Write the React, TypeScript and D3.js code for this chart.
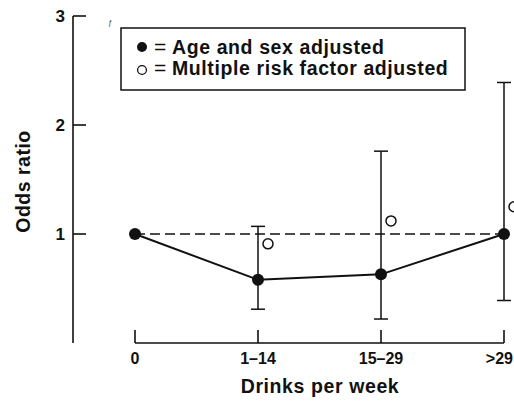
import React from "react";
import * as d3 from "d3";

const categories = ["0", "1–14", "15–29", ">29"];
const ageSexOR = [1.0, 0.58, 0.63, 1.0];
const ciLower = [null, 0.31, 0.22, 0.39];
const ciUpper = [null, 1.07, 1.76, 2.39];
const multiRiskOR = [null, 0.91, 1.12, 1.25];
const yTicks = [1, 2, 3];
const legendLabels = ["Age and sex adjusted", "Multiple risk factor adjusted"];

const W = 514;
const H = 403;
const FONT = "'Liberation Sans', Arial, sans-serif";
const INK = "#111";

export default function App() {
  const x = d3.scalePoint<string>().domain(categories).range([135, 504]);
  const y = d3.scaleLinear().domain([0, 3]).range([343, 16]);
  const line = d3
    .line<number>()
    .x((_, i) => x(categories[i]) as number)
    .y((d) => y(d));
  const x0 = 73;
  const yBase = y(0);
  return (
    <svg
      width={W}
      height={H}
      style={{ position: "absolute", left: 0, top: 0, background: "#fff" }}
      fontFamily={FONT}
      fontWeight="bold"
    >
      <rect width={W} height={H} fill="#fff" />
      {/* y axis */}
      <line x1={x0} x2={x0} y1={y(3)} y2={yBase} stroke={INK} strokeWidth={1.6} />
      {yTicks.map((t) => (
        <g key={t}>
          <line x1={x0} x2={x0 + 13} y1={y(t)} y2={y(t)} stroke={INK} strokeWidth={1.6} />
          <text x={65} y={y(t) + 6} textAnchor="end" fontSize={17} fill={INK}>
            {t}
          </text>
        </g>
      ))}
      <text
        transform={`translate(30,181.5) rotate(-90)`}
        textAnchor="middle"
        fontSize={19.5}
        letterSpacing={0.5}
        fill={INK}
      >
        Odds ratio
      </text>
      {/* x axis */}
      <line x1={x(categories[0])} x2={x(categories[3])} y1={yBase} y2={yBase} stroke={INK} strokeWidth={1.6} />
      {categories.map((c, i) => (
        <g key={c}>
          <line x1={x(c)} x2={x(c)} y1={yBase} y2={yBase - 13} stroke={INK} strokeWidth={1.6} />
          <text
            x={i === categories.length - 1 ? 513 : (x(c) as number)}
            y={364}
            textAnchor={i === categories.length - 1 ? "end" : "middle"}
            fontSize={16}
            fill={INK}
          >
            {c}
          </text>
        </g>
      ))}
      <text x={320} y={393} textAnchor="middle" fontSize={19.5} letterSpacing={0.6} fill={INK}>
        Drinks per week
      </text>
      {/* reference line */}
      <line
        x1={x(categories[0])}
        x2={x(categories[3])}
        y1={y(1)}
        y2={y(1)}
        stroke={INK}
        strokeWidth={1.5}
        strokeDasharray="10,5"
      />
      {/* error bars */}
      {categories.map((c, i) =>
        ciLower[i] == null ? null : (
          <g key={"e" + c} stroke={INK} strokeWidth={1.5}>
            <line x1={x(c)} x2={x(c)} y1={y(ciUpper[i] as number)} y2={y(ciLower[i] as number)} />
            <line x1={(x(c) as number) - 7} x2={(x(c) as number) + 7} y1={y(ciUpper[i] as number)} y2={y(ciUpper[i] as number)} />
            <line x1={(x(c) as number) - 7} x2={(x(c) as number) + 7} y1={y(ciLower[i] as number)} y2={y(ciLower[i] as number)} />
          </g>
        )
      )}
      {/* age-sex line */}
      <path d={line(ageSexOR) || ""} fill="none" stroke={INK} strokeWidth={2} />
      {ageSexOR.map((v, i) => (
        <circle key={"f" + i} cx={x(categories[i])} cy={y(v)} r={6} fill={INK} />
      ))}
      {multiRiskOR.map((v, i) =>
        v == null ? null : (
          <circle
            key={"o" + i}
            cx={(x(categories[i]) as number) + 10}
            cy={y(v)}
            r={5}
            fill="#fff"
            stroke={INK}
            strokeWidth={1.5}
          />
        )
      )}
      {/* legend */}
      <rect x={121} y={28} width={344} height={62} fill="#fff" stroke={INK} strokeWidth={1.5} />
      <circle cx={142} cy={47} r={5} fill={INK} />
      <circle cx={142} cy={70} r={4.4} fill="#fff" stroke={INK} strokeWidth={1.3} />
      <text x={154} y={53.5} fontSize={21} fontWeight="normal" fill={INK}>=</text>
      <text x={154} y={74.5} fontSize={21} fontWeight="normal" fill={INK}>=</text>
      <text x={172} y={54} fontSize={19.5} letterSpacing={0.6} fill={INK}>
        {legendLabels[0]}
      </text>
      <text x={172} y={75} fontSize={19.5} letterSpacing={0.6} fill={INK}>
        {legendLabels[1]}
      </text>
      <text x={108} y={25} fontSize={7} fill="#333" fontStyle="italic" fontWeight="normal">
        ƒ
      </text>
    </svg>
  );
}
